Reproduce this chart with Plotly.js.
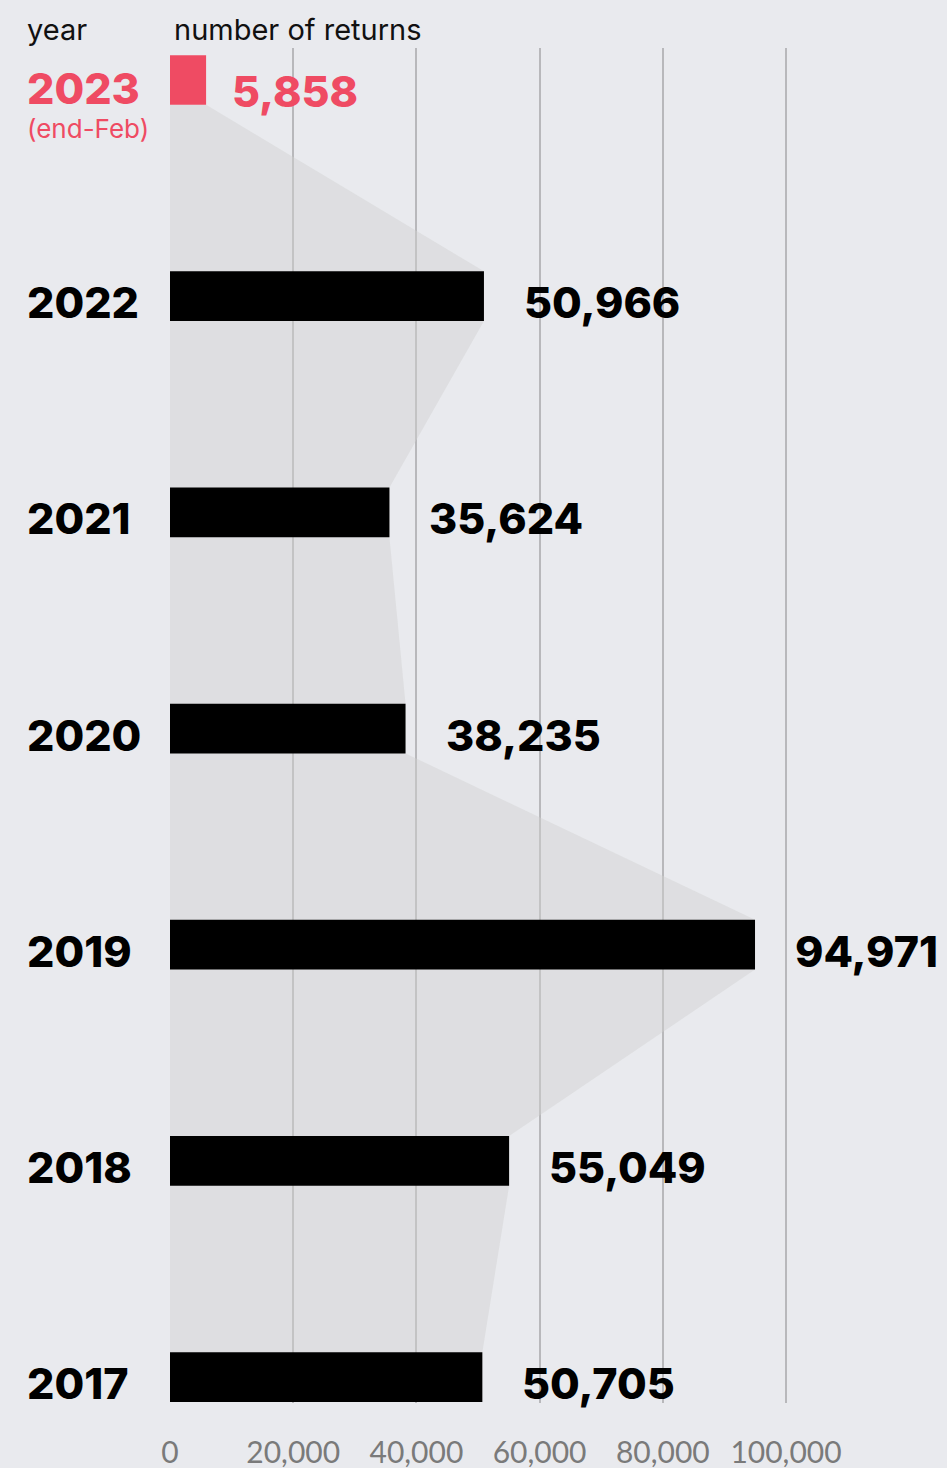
<!DOCTYPE html>
<html>
<head>
<meta charset="utf-8">
<script src="https://cdn.plot.ly/plotly-3.0.1.min.js"></script>
<style>
  body { margin: 0; background: #e9eaee; }
  #chart { width: 947px; height: 1468px; }
</style>
</head>
<body>
<div id="chart"></div>
<script>
var years = ['2023', '2022', '2021', '2020', '2019', '2018', '2017'];
var returns = [5858, 50966, 35624, 38235, 94971, 55049, 50705];
var barColors = ['#ef4b63', '#000000', '#000000', '#000000', '#000000', '#000000', '#000000'];
var tickVals = [0, 20000, 40000, 60000, 80000, 100000];
var tickText = ['0', '20,000', '40,000', '60,000', '80,000', '100,000'];

var pos = years.map(function (y, i) { return i; });
var half = 0.115;
var xRange = [0, 125000];
var yRange = [6.12, -0.148];

// shaded band joining the bar ends
var areaX = [], areaY = [];
returns.forEach(function (v, i) {
  if (i > 0) { areaX.push(v); areaY.push(i - half); }
  areaX.push(v); areaY.push(i + half);
});

var data = [
  {
    x: areaX,
    y: areaY,
    type: 'scatter',
    mode: 'lines',
    fill: 'tozerox',
    fillcolor: 'rgba(208,208,208,0.45)',
    line: {width: 0},
    hoverinfo: 'skip'
  },
  {
    x: returns,
    y: pos,
    xaxis: 'x2',
    yaxis: 'y2',
    type: 'bar',
    orientation: 'h',
    width: 2 * half,
    marker: {color: barColors},
    hoverinfo: 'x'
  }
];

var bold = {family: 'Inter', size: 43, weight: 800};
var annotations = [];
years.forEach(function (y, i) {
  var col = i === 0 ? '#ef4b63' : '#000000';
  annotations.push({
    xref: 'paper', yref: 'y', x: -0.188, y: i, yshift: i === 0 ? -8 : -6,
    xanchor: 'left', yanchor: 'middle', showarrow: false,
    text: y, font: Object.assign({}, bold, {color: col})
  });
  annotations.push({
    xref: 'x', yref: 'y', x: returns[i], y: i, xshift: i === 0 ? 24 : 38, yshift: i === 0 ? -11 : -6,
    xanchor: 'left', yanchor: 'middle', showarrow: false,
    text: returns[i].toLocaleString('en-US'),
    font: Object.assign({}, bold, {color: col})
  });
});
annotations.push({
  xref: 'paper', yref: 'y', x: -0.188, y: 0, yshift: -49,
  xanchor: 'left', yanchor: 'middle', showarrow: false,
  text: '(end-Feb)', font: {family: 'Inter', size: 26, color: '#ef4b63'}
});
annotations.push({
  xref: 'paper', yref: 'paper', x: -0.188, y: 1, yshift: 19,
  xanchor: 'left', yanchor: 'middle', showarrow: false,
  text: 'year', font: {family: 'Inter', size: 29, color: '#111111'}
});
annotations.push({
  xref: 'paper', yref: 'paper', x: 0.002, y: 1, yshift: 19,
  xanchor: 'left', yanchor: 'middle', showarrow: false,
  text: 'number of returns', font: {family: 'Inter', size: 29, color: '#111111'}
});

var layout = {
  width: 947,
  height: 1468,
  paper_bgcolor: '#e9eaee',
  plot_bgcolor: '#e9eaee',
  margin: {l: 170, r: 7, t: 48, b: 65},
  showlegend: false,
  xaxis: {
    range: xRange,
    tickvals: tickVals,
    ticktext: tickText,
    showgrid: true,
    gridcolor: '#b8b8bb',
    gridwidth: 2,
    zeroline: true,
    zerolinecolor: 'rgba(0,0,0,0)',
    showline: false,
    ticks: '',
    ticklabelstandoff: 29,
    tickfont: {family: 'Lato', size: 30, color: '#7a7a7a'},
    fixedrange: true
  },
  yaxis: {
    range: yRange,
    showgrid: false,
    zeroline: false,
    showticklabels: false,
    fixedrange: true
  },
  xaxis2: {
    overlaying: 'x', range: xRange, visible: false, fixedrange: true
  },
  yaxis2: {
    overlaying: 'y', range: yRange, visible: false, fixedrange: true
  },
  annotations: annotations
};

Plotly.newPlot('chart', data, layout, {displayModeBar: false});
</script>
</body>
</html>
